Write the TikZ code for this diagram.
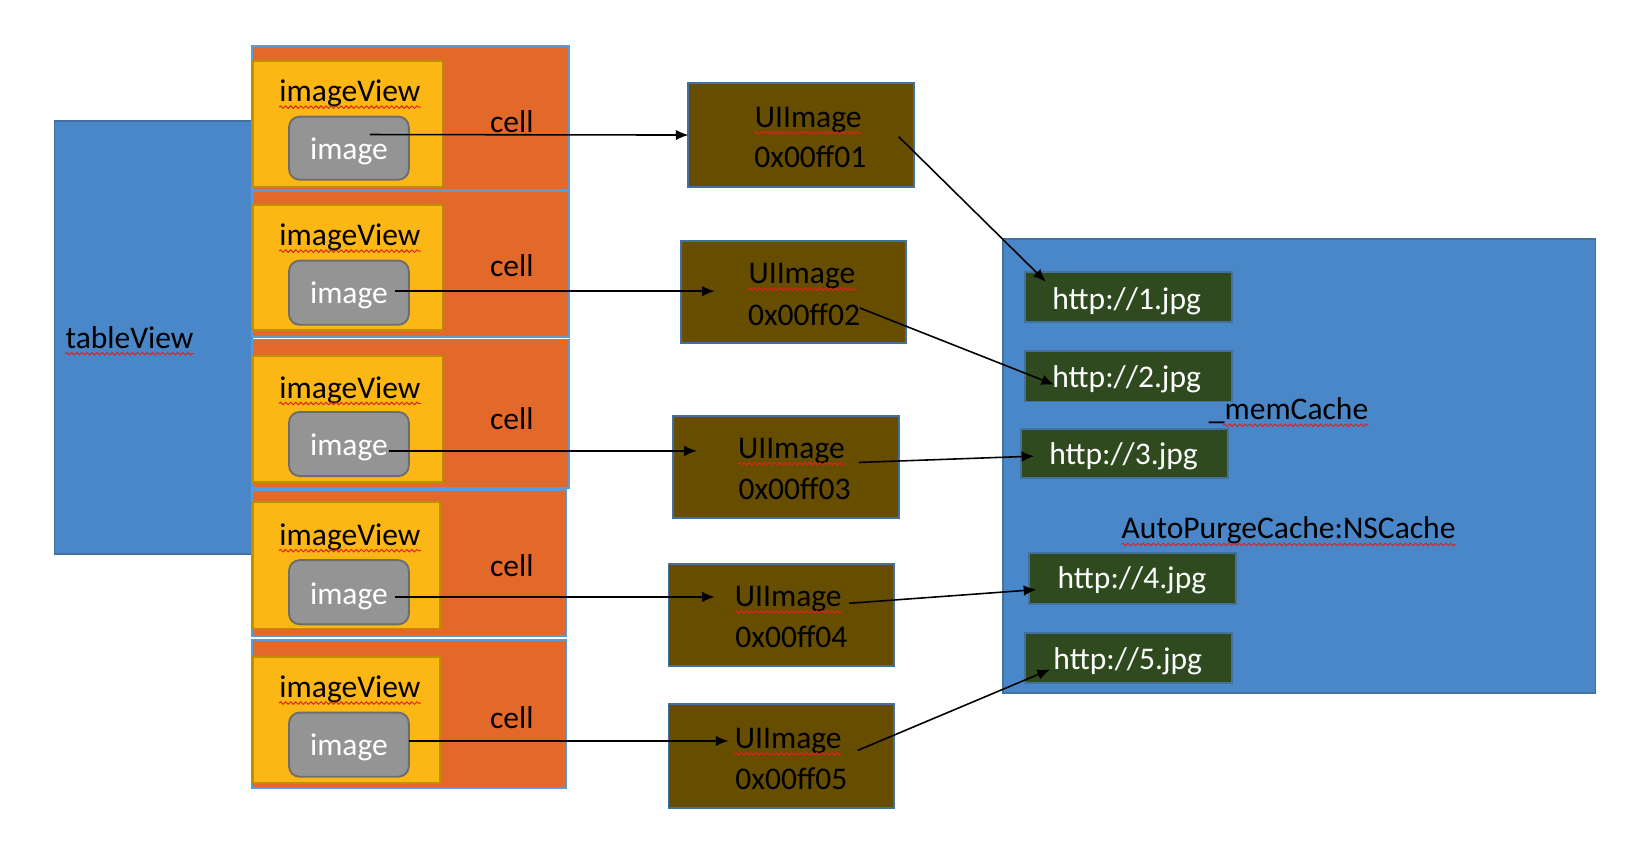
\documentclass[tikz,border=0pt]{standalone}
\usepackage{fontspec}
\setmainfont{Carlito}
\usetikzlibrary{arrows.meta,calc,decorations.pathmorphing}
\definecolor{tblue}{HTML}{4A87C9}
\definecolor{bblue}{HTML}{41719C}
\definecolor{cblue}{HTML}{5B9BD5}
\definecolor{corange}{HTML}{E3692A}
\definecolor{ivyellow}{HTML}{FDB714}
\definecolor{ivborder}{HTML}{BF8F00}
\definecolor{imgray}{HTML}{949494}
\definecolor{imborder}{HTML}{6D6D6D}
\definecolor{uibrown}{HTML}{664D00}
\definecolor{hgreen}{HTML}{2E4A1E}
\definecolor{squigred}{HTML}{E02020}
\newcommand\mybox[6]{\node[#6, minimum width={(#4-#2)*0.5pt}, minimum height={(#5-#3)*0.5pt}] (#1) at ({(#2+#4)/2},{(#3+#5)/2}) {};}
\begin{document}
\begin{tikzpicture}[x=0.5pt,y=-0.5pt, font=\fontsize{15}{17.5}\selectfont,
  base/.style={rectangle, inner sep=0pt, outer sep=0pt, line width=0.7pt},
  tablebox/.style={base, fill=tblue, draw=bblue},
  cellbox/.style={base, fill=corange, draw=cblue, line width=0.9pt},
  ivbox/.style={base, fill=ivyellow, draw=ivborder, line width=0.9pt},
  imbox/.style={base, fill=imgray, draw=imborder, line width=0.9pt, rounded corners=5pt},
  uibox/.style={base, fill=uibrown, draw=bblue, line width=0.9pt},
  cachebox/.style={base, fill=tblue, draw=bblue, line width=0.9pt},
  urlbox/.style={base, fill=hgreen, draw=bblue, line width=0.9pt},
  lbl/.style={inner sep=0pt, text=black},
  wlbl/.style={inner sep=0pt, text=white},
  arr/.style={-{Latex[length=6pt,width=5pt]}, line width=0.75pt, black},
  squig/.style={draw=squigred, line width=0.45pt, decorate, decoration={snake, segment length=2.4pt, amplitude=0.6pt}}
]
\useasboundingbox (0,0) rectangle (1568,822);

% tableView
\mybox{tv}{52}{115}{240}{527}{tablebox}
\node[lbl, anchor=west] (tvl) at (62,321) {tableView};
\draw[squig] ([yshift=-2.6pt]tvl.base west) -- ([yshift=-2.6pt]tvl.base east);

% cells
\mybox{c1}{240}{44}{541}{181}{cellbox}
\mybox{c2}{240}{182}{541}{321}{cellbox}
\mybox{c3}{240}{323}{541}{464}{cellbox}
\mybox{c4}{240}{466}{539}{605}{cellbox}
\mybox{c5}{240}{609}{539}{750}{cellbox}

\mybox{v1}{241}{58}{421}{178}{ivbox}
\mybox{v2}{241}{195}{421}{314}{ivbox}
\mybox{v3}{241}{339}{421}{459}{ivbox}
\mybox{v4}{241}{478}{419}{598}{ivbox}
\mybox{v5}{241}{625}{419}{745}{ivbox}

\mybox{i1}{275}{111}{389}{171}{imbox}
\mybox{i2}{275}{248}{389}{309}{imbox}
\mybox{i3}{275}{392}{389}{453}{imbox}
\mybox{i4}{275}{533}{389}{594}{imbox}
\mybox{i5}{275}{678}{389}{739}{imbox}

\foreach \k/\vy/\iy/\cy in {1/89/144/116, 2/226/281/253, 3/371/426/398, 4/511/567/538, 5/656/711/683}{
  \node[lbl] (vl\k) at (333,\vy) {imageView};
  \draw[squig] ([yshift=-2.6pt]vl\k.base west) -- ([yshift=-2.6pt]vl\k.base east);
  \node[wlbl] (il\k) at (332,\iy) {image};
  \node[lbl] (cl\k) at (487,\cy) {cell};
}

% UIImage boxes
\mybox{u1}{655}{79}{870}{178}{uibox}
\mybox{u2}{648}{229}{862}{326}{uibox}
\mybox{u3}{640}{396}{855}{493}{uibox}
\mybox{u4}{636}{537}{851}{634}{uibox}
\mybox{u5}{636}{670}{851}{769}{uibox}

\foreach \k/\tx/\ty/\ax/\ay/\addr in {1/769/114/771/149/0x00ff01, 2/763/263/765/299/0x00ff02, 3/753/429/756/465/0x00ff03, 4/750/570/753/606/0x00ff04, 5/750/705/753/741/0x00ff05}{
  \node[lbl] (ut\k) at (\tx,\ty) {UIImage};
  \draw[squig] ([yshift=-2.6pt]ut\k.base west) -- ([yshift=-2.6pt]ut\k.base east);
  \node[lbl] (ua\k) at (\ax,\ay) {\addr};
}

% cache
\mybox{mc}{954}{227}{1518}{659}{cachebox}
\mybox{h1}{975}{259}{1172}{306}{urlbox}
\mybox{h2}{975}{334}{1172}{382}{urlbox}
\mybox{h3}{971}{408}{1168}{455}{urlbox}
\mybox{h4}{979}{526}{1176}{575}{urlbox}
\mybox{h5}{975}{602}{1172}{650}{urlbox}
\foreach \k/\cx/\cy in {1/1072/287, 2/1072/361, 3/1069/434, 4/1077/552, 5/1073/629}{
  \node[wlbl] (hl\k) at (\cx,\cy) {http://\k.jpg};
}
\node[lbl] (mcl) at (1226,391) {\_memCache};
\draw[squig] ([yshift=-2.6pt,xshift=7pt]mcl.base west) -- ([yshift=-2.6pt]mcl.base east);
\node[lbl] (apl) at (1226,505) {AutoPurgeCache:NSCache};
\draw[squig] ([yshift=-2.6pt]apl.base west) -- ([yshift=-2.6pt]apl.base east);

% connectors image -> UIImage
\draw[arr] ($(i1.center)+(20,-13)$) -- (u1.west);
\draw[arr] ($(i2.center)+(44,-1.5)$) -- ($(u2.center)+(-75,-0.5)$);
\draw[arr] ($(i3.center)+(38,6.5)$) -- ($(u3.center)+(-84.5,-15.5)$);
\draw[arr] ($(i4.center)+(44,4.5)$) -- ($(u4.center)+(-63.5,-17.5)$);
\draw[arr] ($(i5.center)+(57,-3.5)$) -- ($(u5.center)+(-50.5,-14.5)$);

% connectors UIImage -> url
\draw[arr] ($(u1.center)+(92.5,1.5)$) -- ($(h1.center)+(-78.5,-14.5)$);
\draw[arr] ($(u2.center)+(63,15.5)$) -- ($(h2.center)+(-70.5,8)$);
\draw[arr] ($(u3.center)+(69.5,-4.5)$) -- ($(h3.center)+(-85.5,2.5)$);
\draw[arr] ($(u4.center)+(64.5,-11.5)$) -- ($(h4.center)+(-91.5,10.5)$);
\draw[arr] ($(u5.center)+(72.5,-5.5)$) -- ($(h5.center)+(-74.5,11)$);
\end{tikzpicture}
\end{document}
